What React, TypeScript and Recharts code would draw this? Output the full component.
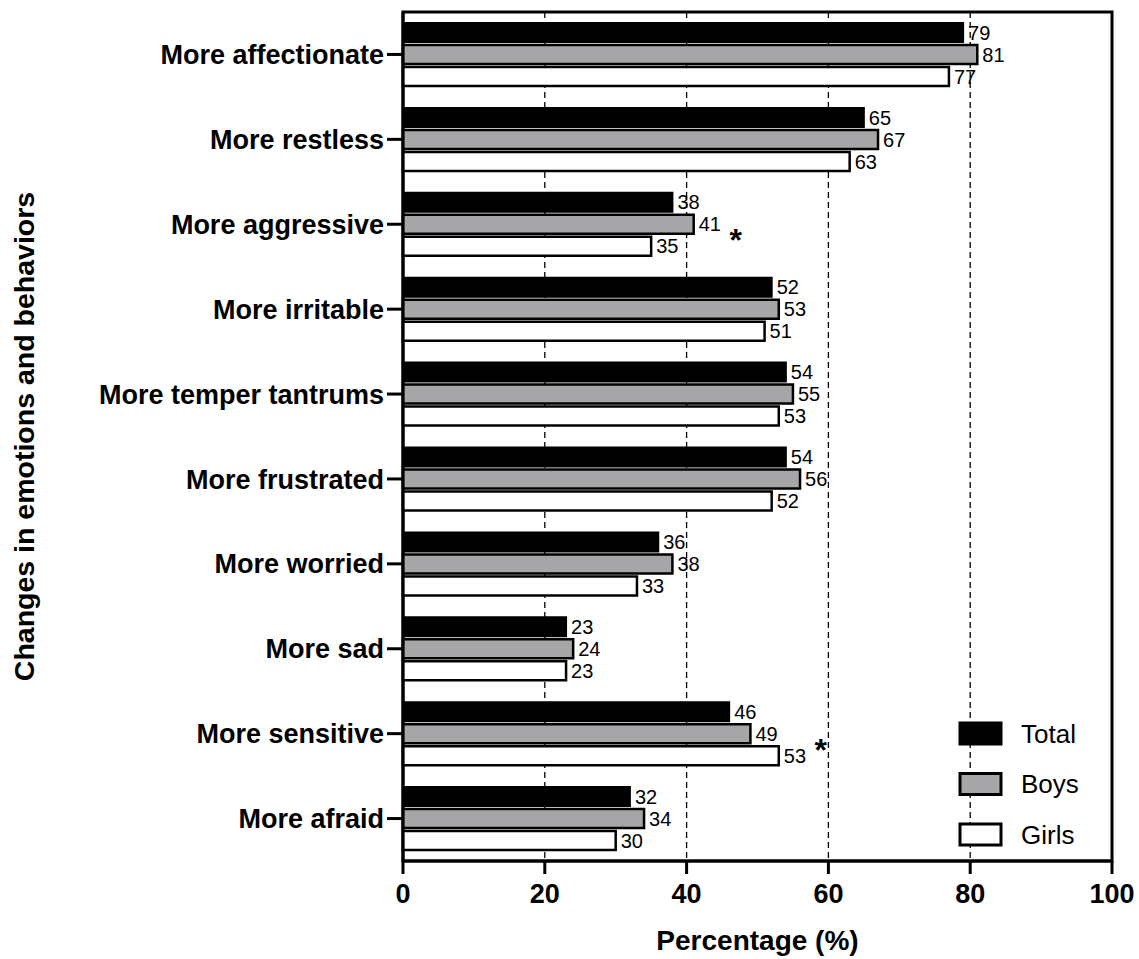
import React from 'react';
import {
  BarChart,
  Bar,
  XAxis,
  YAxis,
  CartesianGrid,
  LabelList,
  Legend,
  ReferenceArea,
} from 'recharts';

const categories = [
  'More affectionate',
  'More restless',
  'More aggressive',
  'More irritable',
  'More temper tantrums',
  'More frustrated',
  'More worried',
  'More sad',
  'More sensitive',
  'More afraid',
];
const totalValues = [79, 65, 38, 52, 54, 54, 36, 23, 46, 32];
const boysValues = [81, 67, 41, 53, 55, 56, 38, 24, 49, 34];
const girlsValues = [77, 63, 35, 51, 53, 52, 33, 23, 53, 30];
const significance = ['', '', '*', '', '', '', '', '', '*', ''];
const xTicks = [0, 20, 40, 60, 80, 100];

const seriesInfo = [
  { key: 'total', name: 'Total', fill: '#000000' },
  { key: 'boys', name: 'Boys', fill: '#a6a6a8' },
  { key: 'girls', name: 'Girls', fill: '#ffffff' },
];

const data = categories.map((name, i) => ({
  name,
  total: totalValues[i],
  boys: boysValues[i],
  girls: girlsValues[i],
  sig: significance[i],
}));

const FONT = '"Liberation Sans", Arial, Helvetica, sans-serif';

const AsteriskLabel = (props: any) => {
  const i = props.index;
  if (i === undefined || !significance[i]) return null;
  const vb = props.viewBox && props.viewBox.width !== undefined ? props.viewBox : props;
  const x = Number(vb.x);
  const y = Number(vb.y);
  const w = Number(vb.width);
  const h = Number(vb.height);
  const maxV = Math.max(totalValues[i], boysValues[i], girlsValues[i]);
  const endX = x + (w * maxV) / boysValues[i];
  const cy = y + h / 2 + 9;
  return (
    <text
      x={endX + 42}
      y={cy + 18}
      textAnchor="middle"
      fontFamily={FONT}
      fontWeight="bold"
      fontSize={32}
      fill="#000"
    >
      {significance[i]}
    </text>
  );
};

const LegendContent = () => (
  <svg width={160} height={135} style={{ overflow: 'visible', display: 'block' }}>
    {seriesInfo.map((s, i) => (
      <g key={s.key}>
        <rect
          x={2}
          y={2 + i * 50.5}
          width={41}
          height={21}
          fill={s.fill}
          stroke="#000"
          strokeWidth={3}
        />
        <text
          x={63}
          y={12.5 + i * 50.5}
          dominantBaseline="central"
          fontFamily={FONT}
          fontSize={26}
          fill="#000"
        >
          {s.name}
        </text>
      </g>
    ))}
  </svg>
);

const XTitle = (props: any) => {
  const vb = props.viewBox || {};
  return (
    <text
      x={vb.x + vb.width / 2}
      y={vb.y + 89}
      textAnchor="middle"
      fontFamily={FONT}
      fontWeight="bold"
      fontSize={28}
      fill="#000"
    >
      Percentage (%)
    </text>
  );
};

const YTitle = (props: any) => {
  const vb = props.viewBox || {};
  const cy = vb.y + vb.height / 2;
  return (
    <text
      x={24}
      y={cy}
      transform={`rotate(-90, 24, ${cy})`}
      textAnchor="middle"
      dominantBaseline="central"
      fontFamily={FONT}
      fontWeight="bold"
      fontSize={28.5}
      fill="#000"
    >
      Changes in emotions and behaviors
    </text>
  );
};

export default function App() {
  return (
    <div style={{ position: 'absolute', left: 0, top: 0, width: 1139, height: 959, background: '#fff' }}>
      <BarChart
        width={1139}
        height={959}
        data={data}
        layout="vertical"
        margin={{ top: 12, right: 27, bottom: 0, left: 0 }}
        barSize={19}
        barGap={3}
      >
        <CartesianGrid
          horizontal={false}
          vertical={true}
          stroke="#000"
          strokeWidth={1.3}
          strokeDasharray="6 4"
        />
        <ReferenceArea
          x1={0}
          x2={100}
          fill="none"
          fillOpacity={0}
          stroke="#000"
          strokeWidth={3}
          ifOverflow="visible"
        />
        <XAxis
          type="number"
          domain={[0, 100]}
          ticks={xTicks}
          height={98}
          axisLine={{ stroke: '#000', strokeWidth: 3 }}
          tickLine={{ stroke: '#000', strokeWidth: 3 }}
          tickSize={13}
          tickMargin={10}
          tick={{ fill: '#000', fontFamily: FONT, fontWeight: 'bold', fontSize: 27 }}
          label={<XTitle />}
        />
        <YAxis
          type="category"
          dataKey="name"
          width={403}
          axisLine={{ stroke: '#000', strokeWidth: 3 }}
          tickLine={{ stroke: '#000', strokeWidth: 3 }}
          tickSize={16}
          tickMargin={3}
          interval={0}
          tick={{ fill: '#000', fontFamily: FONT, fontWeight: 'bold', fontSize: 27 }}
          label={<YTitle />}
        />
        <Legend
          layout="vertical"
          align="center"
          verticalAlign="middle"
          content={<LegendContent />}
          wrapperStyle={{ position: 'absolute', left: 958, top: 721, width: 160, height: 135 }}
        />
        <Bar dataKey="total" name="Total" fill="#000" stroke="#000" strokeWidth={2} isAnimationActive={false}>
          <LabelList
            dataKey="total"
            position="right"
            offset={5}
            style={{ fill: '#000', fontFamily: FONT, fontSize: 20 }}
          />
        </Bar>
        <Bar dataKey="boys" name="Boys" fill="#a6a6a8" stroke="#000" strokeWidth={2.5} isAnimationActive={false}>
          <LabelList
            dataKey="boys"
            position="right"
            offset={5}
            style={{ fill: '#000', fontFamily: FONT, fontSize: 20 }}
          />
          <LabelList dataKey="sig" content={<AsteriskLabel />} />
        </Bar>
        <Bar dataKey="girls" name="Girls" fill="#fff" stroke="#000" strokeWidth={2.5} isAnimationActive={false}>
          <LabelList
            dataKey="girls"
            position="right"
            offset={5}
            style={{ fill: '#000', fontFamily: FONT, fontSize: 20 }}
          />
        </Bar>
      </BarChart>
    </div>
  );
}
